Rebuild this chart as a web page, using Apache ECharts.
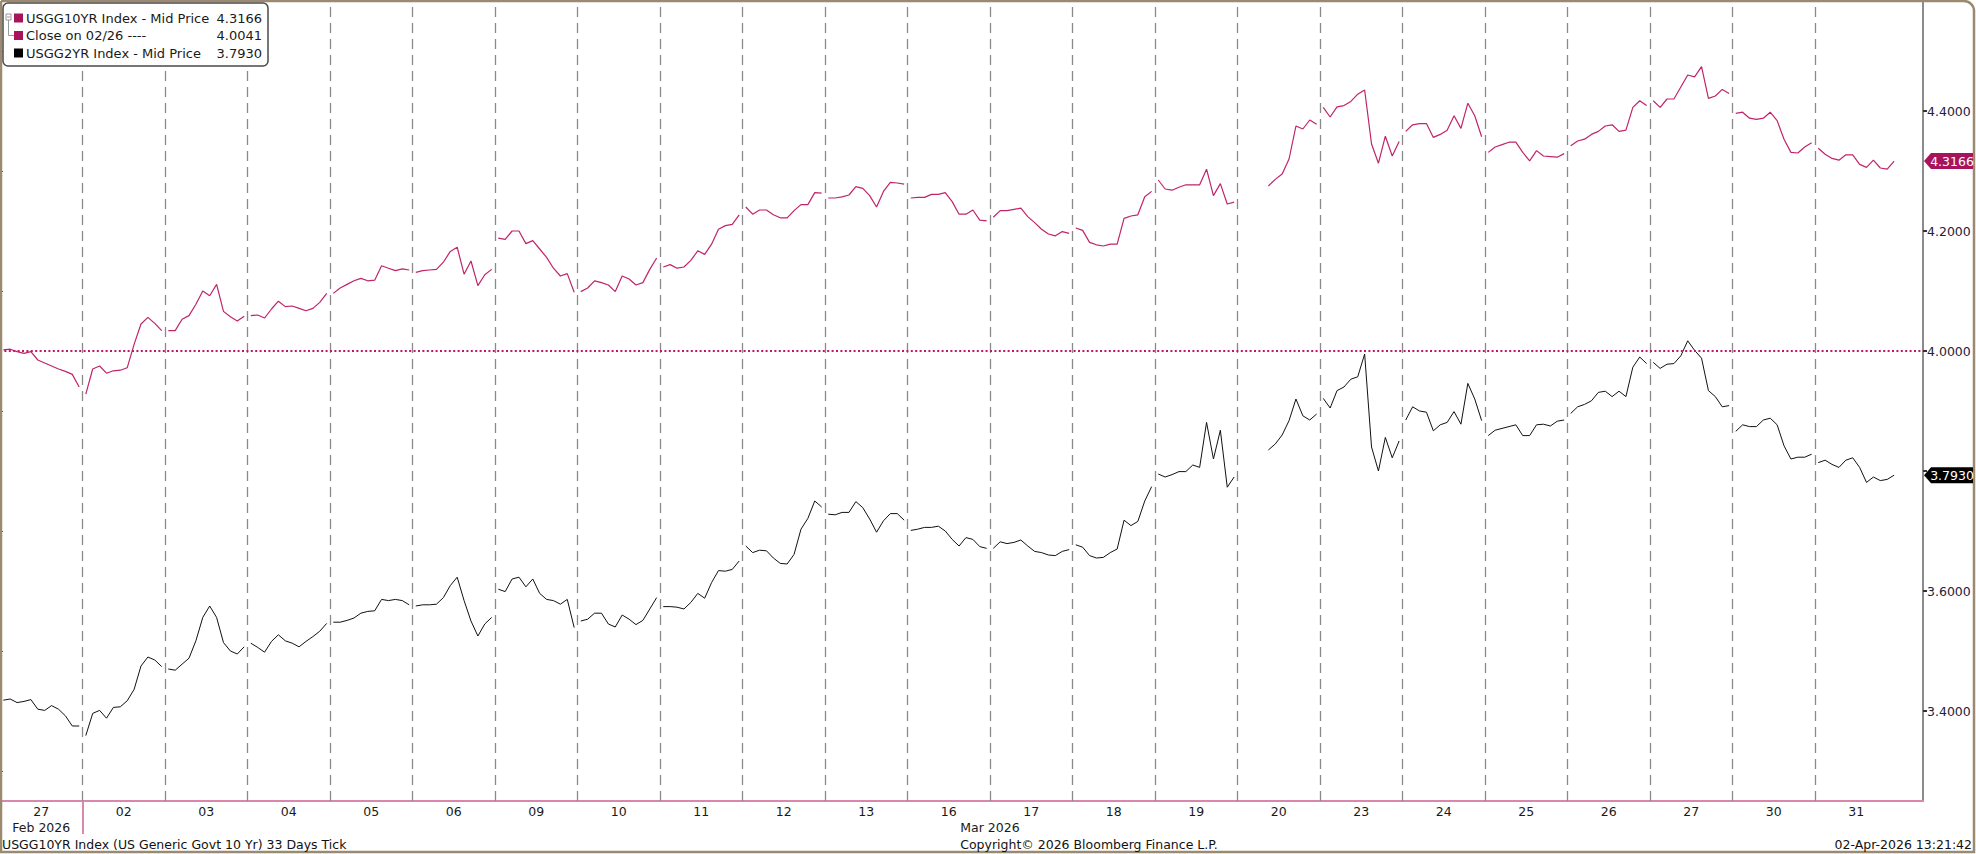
<!DOCTYPE html>
<html><head><meta charset="utf-8">
<script src="https://cdn.jsdelivr.net/npm/echarts@6/dist/echarts.min.js"></script>
<style>html,body{margin:0;padding:0;background:#fff;}#c{width:1976px;height:854px;}</style>
</head><body><div id="c"></div>
<script>
// ---------- data ----------
const dayLabels = ['27','02','03','04','05','06','09','10','11','12','13','16','17','18','19','20','23','24','25','26','27','30','31'];
const monthLabels = ['Feb 2026', 'Mar 2026'];
const monthFirstDay = [0, 1];          // index of first day of each month in dayLabels
const closePrev = 4.0041;              // close on 02/26
const yMajorTicks = [3.4, 3.6, 3.8, 4.0, 4.2, 4.4];
const yTickLabels = [3.4, 3.6, 4.0, 4.2, 4.4];   // 3.8 is covered by the last-price tag
const yMinorTicks = [3.3, 3.5, 3.7, 3.9, 4.1, 4.3, 4.5];
const slotsPerDay = 12;                // intraday samples per day

const usgg10 = [
 [4.002,4.003,3.999,3.996,3.999,3.985,3.980,3.975,3.970,3.966,3.961,3.940],
 [3.928,3.970,3.975,3.963,3.967,3.968,3.972,4.011,4.045,4.056,4.046,4.034],
 [4.034,4.034,4.053,4.059,4.078,4.100,4.092,4.111,4.066,4.057,4.050,4.058],
 [4.059,4.060,4.055,4.070,4.083,4.074,4.075,4.071,4.067,4.071,4.081,4.096],
 [4.096,4.105,4.111,4.117,4.121,4.117,4.118,4.142,4.138,4.134,4.137,4.135],
 [4.131,4.134,4.135,4.136,4.148,4.166,4.173,4.128,4.150,4.109,4.127,4.136],
 [4.188,4.186,4.200,4.200,4.179,4.184,4.170,4.156,4.138,4.125,4.129,4.098],
 [4.099,4.105,4.117,4.114,4.110,4.099,4.125,4.120,4.110,4.114,4.136,4.155],
 [4.140,4.144,4.138,4.140,4.151,4.167,4.161,4.178,4.203,4.209,4.211,4.227],
 [4.240,4.228,4.235,4.235,4.227,4.222,4.222,4.234,4.244,4.244,4.264,4.263],
 [4.255,4.255,4.257,4.260,4.274,4.271,4.259,4.240,4.266,4.281,4.280,4.278],
 [4.255,4.256,4.256,4.261,4.261,4.264,4.249,4.228,4.228,4.235,4.218,4.217],
 [4.223,4.234,4.234,4.236,4.238,4.224,4.214,4.203,4.195,4.192,4.199,4.196],
 [4.205,4.201,4.181,4.177,4.175,4.178,4.178,4.221,4.225,4.227,4.257,4.266],
 [4.285,4.270,4.268,4.273,4.277,4.277,4.277,4.303,4.259,4.279,4.245,4.248],
 [null,null,null,null,4.275,4.286,4.295,4.320,4.375,4.370,4.385,4.378],
 [4.406,4.390,4.407,4.409,4.416,4.428,4.435,4.345,4.313,4.358,4.325,4.349],
 [4.366,4.377,4.379,4.379,4.356,4.361,4.368,4.392,4.371,4.413,4.392,4.357],
 [4.331,4.340,4.344,4.348,4.348,4.331,4.317,4.334,4.325,4.324,4.323,4.329],
 [4.342,4.350,4.353,4.361,4.366,4.375,4.377,4.366,4.368,4.406,4.417,4.409],
 [4.417,4.406,4.420,4.420,4.440,4.460,4.457,4.474,4.421,4.425,4.436,4.429],
 [4.396,4.398,4.388,4.386,4.388,4.398,4.384,4.353,4.331,4.330,4.340,4.347],
 [4.338,4.328,4.321,4.318,4.327,4.327,4.311,4.306,4.318,4.305,4.303,4.3166]
];
const usgg2 = [
 [3.418,3.420,3.414,3.416,3.419,3.403,3.401,3.409,3.403,3.392,3.375,3.375],
 [3.359,3.396,3.401,3.388,3.406,3.407,3.417,3.436,3.475,3.490,3.485,3.474],
 [3.470,3.468,3.478,3.488,3.517,3.556,3.575,3.556,3.514,3.500,3.495,3.507],
 [3.513,3.506,3.498,3.516,3.527,3.517,3.513,3.507,3.516,3.524,3.533,3.546],
 [3.548,3.548,3.551,3.555,3.563,3.566,3.567,3.586,3.584,3.586,3.584,3.577],
 [3.575,3.577,3.577,3.578,3.589,3.609,3.623,3.584,3.550,3.525,3.545,3.556],
 [3.603,3.599,3.620,3.623,3.607,3.620,3.596,3.586,3.584,3.578,3.586,3.539],
 [3.550,3.553,3.563,3.563,3.545,3.540,3.560,3.553,3.544,3.551,3.570,3.589],
 [3.574,3.574,3.573,3.570,3.581,3.596,3.588,3.614,3.634,3.633,3.636,3.650],
 [3.675,3.664,3.668,3.667,3.655,3.646,3.645,3.661,3.703,3.721,3.750,3.740],
 [3.728,3.727,3.731,3.731,3.749,3.739,3.720,3.698,3.717,3.729,3.729,3.718],
 [3.701,3.703,3.706,3.706,3.708,3.700,3.686,3.675,3.689,3.686,3.674,3.671],
 [3.671,3.682,3.679,3.681,3.685,3.675,3.666,3.664,3.660,3.659,3.666,3.669],
 [3.677,3.673,3.659,3.655,3.656,3.664,3.670,3.718,3.709,3.716,3.750,3.774],
 [3.795,3.790,3.794,3.799,3.799,3.810,3.806,3.881,3.820,3.868,3.773,3.790],
 [null,null,null,null,3.835,3.845,3.860,3.884,3.920,3.892,3.885,3.895],
 [3.921,3.905,3.934,3.940,3.953,3.957,3.995,3.840,3.800,3.856,3.822,3.850],
 [3.885,3.907,3.900,3.898,3.867,3.877,3.881,3.899,3.878,3.946,3.920,3.884],
 [3.859,3.868,3.871,3.874,3.877,3.859,3.859,3.877,3.878,3.875,3.883,3.885],
 [3.896,3.907,3.911,3.917,3.931,3.933,3.924,3.933,3.924,3.973,3.990,3.979],
 [3.981,3.971,3.978,3.979,3.992,4.017,4.001,3.988,3.934,3.924,3.907,3.909],
 [3.866,3.877,3.874,3.874,3.885,3.888,3.877,3.842,3.820,3.823,3.823,3.828],
 [3.814,3.818,3.811,3.806,3.818,3.822,3.806,3.781,3.790,3.784,3.786,3.7930]
];
const legendNames = ['USGG10YR Index - Mid Price', 'Close on 02/26 ----', 'USGG2YR Index - Mid Price'];
const footerLeft = 'USGG10YR Index (US Generic Govt 10 Yr) 33 Days Tick';
const footerMid = 'Copyright\u00A9 2026 Bloomberg Finance L.P.';
const footerRight = '02-Apr-2026 13:21:42';

// ---------- build ----------
const FONT = "'DejaVu Sans', Verdana, sans-serif";
const C10 = '#c0246a', C10TAG = '#a8135b', CAXIS = '#d987ad', FRAME = '#9c8a70';
const nDays = dayLabels.length;
const xMax = 23.31;
const yMin = 3.25, yMax = 4.585;

function toSeries(perDay) {
  const out = [];
  perDay.forEach((vals, d) => {
    vals.forEach((v, k) => { if (v !== null) out.push([d + 0.04 + k * 0.92 / (slotsPerDay - 1), v]); });
    out.push([d + 0.995, '-']);
  });
  return out;
}
const boundaries = dayLabels.slice(1).map((_, i) => i + 1);
const centers = dayLabels.map((_, i) => i + 0.5);
const monthCenters = monthFirstDay.map((s, i) => (s + (i + 1 < monthFirstDay.length ? monthFirstDay[i + 1] : nDays)) / 2);
const monthSeparators = monthFirstDay.slice(1);
const last10 = usgg10[usgg10.length - 1][slotsPerDay - 1];
const last2 = usgg2[usgg2.length - 1][slotsPerDay - 1];

const chart = echarts.init(document.getElementById('c'), null, { renderer: 'svg' });
const txt = { fontFamily: FONT, fontSize: 12.5, color: '#1a1a1a' };

chart.setOption({
  animation: false,
  backgroundColor: '#fff',
  grid: { left: 0, right: 53, top: 0, bottom: 53, containLabel: false },
  xAxis: [
    { type: 'value', min: 0, max: xMax, position: 'bottom',
      axisLine: { show: true, onZero: false, lineStyle: { color: CAXIS, width: 2 } },
      axisTick: { show: true, inside: true, length: 7, customValues: boundaries, lineStyle: { color: '#444', width: 1 } },
      axisLabel: { customValues: centers, formatter: v => dayLabels[Math.round(v - 0.5)], margin: 4, ...txt },
      splitLine: { show: false } },
    { type: 'value', min: 0, max: xMax, position: 'bottom',
      axisLine: { show: false, onZero: false },
      axisTick: { show: true, inside: false, length: 33, customValues: monthSeparators, lineStyle: { color: CAXIS, width: 2 } },
      axisLabel: { customValues: monthCenters, formatter: v => monthLabels[monthCenters.indexOf(v)], margin: 20, ...txt },
      splitLine: { show: false } }
  ],
  yAxis: [
    { type: 'value', min: yMin, max: yMax, position: 'right',
      axisLine: { show: true, onZero: false, lineStyle: { color: '#666', width: 1.5 } },
      axisTick: { show: true, length: 4, customValues: yMajorTicks, lineStyle: { color: '#333', width: 2 } },
      axisLabel: { customValues: yTickLabels, formatter: v => v.toFixed(4), margin: 4, ...txt, color: '#22223a' },
      splitLine: { show: false } },
    { type: 'value', min: yMin, max: yMax, position: 'right',
      axisLine: { show: false },
      axisTick: { show: true, length: 3, customValues: yMinorTicks, lineStyle: { color: '#555', width: 1 } },
      axisLabel: { show: false }, splitLine: { show: false } }
  ],
  series: [
    { name: 'USGG2YR', type: 'line', data: toSeries(usgg2), showSymbol: false, symbol: 'none',
      lineStyle: { color: '#111', width: 1 }, connectNulls: false, z: 3,
      markLine: { silent: true, symbol: 'none', label: { show: false },
        lineStyle: { type: [10, 6], color: '#8a8a8a', width: 1.3 },
        data: boundaries.map(b => ({ xAxis: b })) } },
    { name: 'USGG10YR', type: 'line', data: toSeries(usgg10), showSymbol: false, symbol: 'none',
      lineStyle: { color: C10, width: 1.2 }, connectNulls: false, z: 4,
      markLine: { silent: true, symbol: 'none', label: { show: false },
        lineStyle: { type: [2, 2.4], color: '#c2166b', width: 2 },
        data: [{ yAxis: closePrev }] } }
  ]
});

// tags + legend + frame + footer
function tag(id, value, color) {
  const y = chart.convertToPixel({ yAxisIndex: 0 }, value);
  return [
    { id: id + 'p', type: 'polygon', z: 60, shape: { points: [[1924, y], [1931, y - 8], [1973, y - 8], [1973, y + 8], [1931, y + 8]] }, style: { fill: color } },
    { id: id + 't', type: 'text', z: 61, x: 1952, y: y, style: { text: value.toFixed(4), fill: '#fff', font: '12.5px ' + FONT, align: 'center', verticalAlign: 'middle' } }
  ];
}
const rowsY = [18, 35.5, 53];
const legendVals = [last10, closePrev, last2];
const legendCols = [C10TAG, C10TAG, '#000'];
const LF = '13px ' + FONT;
const g = [
  { id: 'frame', type: 'rect', z: 50, shape: { x: 1, y: 1, width: 1973, height: 851, r: [0, 10, 0, 0] }, style: { fill: 'none', stroke: FRAME, lineWidth: 2.5 } },
  { id: 'lgbox', type: 'rect', z: 90, shape: { x: 3, y: 3, width: 265, height: 63, r: 5 }, style: { fill: '#fff', stroke: '#4a4a4a', lineWidth: 1.5 } },
  { id: 'tree1', type: 'rect', z: 91, shape: { x: 6, y: 14, width: 5, height: 6 }, style: { fill: '#fff', stroke: '#999', lineWidth: 1 } },
  { id: 'tree1b', type: 'line', z: 91, shape: { x1: 7, y1: 17, x2: 10, y2: 17 }, style: { stroke: '#999', lineWidth: 1 } },
  { id: 'tree2', type: 'polyline', z: 91, shape: { points: [[8.5, 20], [8.5, 35.5], [14, 35.5]] }, style: { stroke: '#999', lineWidth: 1, fill: 'none' } },
  { id: 'foot1', type: 'text', z: 60, x: 2, y: 844, style: { text: footerLeft, fill: '#111', font: '12.5px ' + FONT, align: 'left', verticalAlign: 'middle' } },
  { id: 'foot2', type: 'text', z: 60, x: 1089, y: 844, style: { text: footerMid, fill: '#111', font: '12.5px ' + FONT, align: 'center', verticalAlign: 'middle' } },
  { id: 'foot3', type: 'text', z: 60, x: 1972, y: 844, style: { text: footerRight, fill: '#111', font: '12.5px ' + FONT, align: 'right', verticalAlign: 'middle' } }
];
rowsY.forEach((ry, i) => {
  g.push({ id: 'lsq' + i, type: 'rect', z: 91, shape: { x: 14, y: ry - 4.5, width: 9, height: 9 }, style: { fill: legendCols[i] } });
  g.push({ id: 'lnm' + i, type: 'text', z: 91, x: 26, y: ry, style: { text: legendNames[i], fill: '#1a1a1a', font: LF, align: 'left', verticalAlign: 'middle' } });
  g.push({ id: 'lvl' + i, type: 'text', z: 91, x: 262, y: ry, style: { text: legendVals[i].toFixed(4), fill: '#1a1a1a', font: LF, align: 'right', verticalAlign: 'middle' } });
});
chart.setOption({ graphic: g.concat(tag('t10', last10, C10TAG), tag('t2', last2, '#000')) });
</script></body></html>
